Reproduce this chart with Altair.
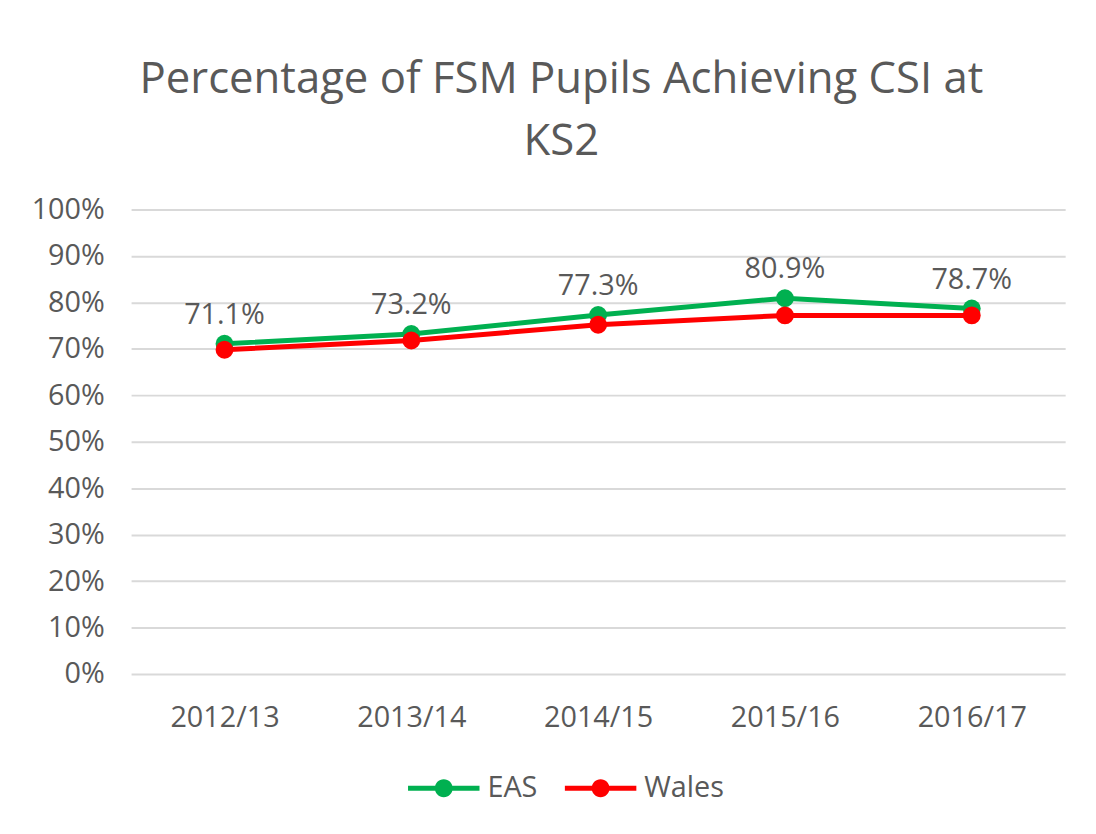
import altair as alt
import pandas as pd

years = ["2012/13", "2013/14", "2014/15", "2015/16", "2016/17"]
eas = [0.711, 0.732, 0.773, 0.809, 0.787]
wales = [0.698, 0.718, 0.752, 0.772, 0.772]
series = ["EAS", "Wales"]
colors = ["#00B050", "#FF0000"]
y_ticks = [0.0, 0.1, 0.2, 0.3, 0.4, 0.5, 0.6, 0.7, 0.8, 0.9, 1.0]
title_lines = ["Percentage of FSM Pupils Achieving CSI at", "KS2"]

rows = []
for s, vals in zip(series, [eas, wales]):
    for yr, v in zip(years, vals):
        rows.append({"Year": yr, "Series": s, "Value": v})
df = pd.DataFrame(rows)

FONT = "Open Sans"
GRAY = "#595959"
FS = 29

legend_symbol = (
    "M-2,-0.14 L2,-0.14 L2,0.14 L-2,0.14 Z "
    "M-0.5,0 A0.5,0.5 0 1,1 0.5,0 A0.5,0.5 0 1,1 -0.5,0 Z"
)

legend = alt.Legend(
    title=None, orient="none", legendX=297, legendY=565,
    direction="horizontal", symbolType=legend_symbol, symbolSize=1296,
    symbolStrokeWidth=0, symbolOpacity=1, labelFontSize=FS, labelColor=GRAY,
    labelFont=FONT, labelOffset=26, columnPadding=27, padding=0,
)

x = alt.X(
    "Year:N",
    sort=years,
    scale=alt.Scale(padding=0.5),
    axis=alt.Axis(
        title=None, labelAngle=0, labelFontSize=FS, labelColor=GRAY,
        labelFont=FONT, labelPadding=30, ticks=False, domain=False, grid=False,
    ),
)
y = alt.Y(
    "Value:Q",
    scale=alt.Scale(domain=[0, 1]),
    axis=alt.Axis(
        title=None, format=".0%", values=y_ticks, labelFontSize=FS,
        labelColor=GRAY, labelFont=FONT, labelPadding=27, ticks=False,
        domain=False, gridColor="#D9D9D9", gridWidth=2,
    ),
)
color = alt.Color("Series:N", scale=alt.Scale(domain=series, range=colors), legend=legend)

base = alt.Chart(df)

lines = base.mark_line(strokeWidth=5).encode(
    x=x, y=y, color=color, detail="Series:N",
)

points = base.mark_point(filled=True, size=324, opacity=1, shape="circle").encode(
    x=x, y=y, color=color,
)

labels = base.transform_filter(alt.datum.Series == "EAS").mark_text(
    baseline="alphabetic", dy=-20, fontSize=FS, font=FONT, color=GRAY,
).encode(
    x=x, y=y, text=alt.Text("Value:Q", format=".1%"),
)

chart = alt.layer(lines, points, labels).properties(
    width=941,
    height=468,
    autosize=alt.AutoSizeParams(type="none"),
    padding={"left": 124, "top": 200, "right": 23, "bottom": 140},
    title=alt.TitleParams(
        text=title_lines, fontSize=44, font=FONT, color=GRAY, fontWeight="normal",
        lineHeight=62, anchor="middle", dx=-37, offset=32,
    ),
).configure(font=FONT).configure_view(stroke=None)

chart.save("out.html", embed_options={"renderer": "svg", "actions": False})
